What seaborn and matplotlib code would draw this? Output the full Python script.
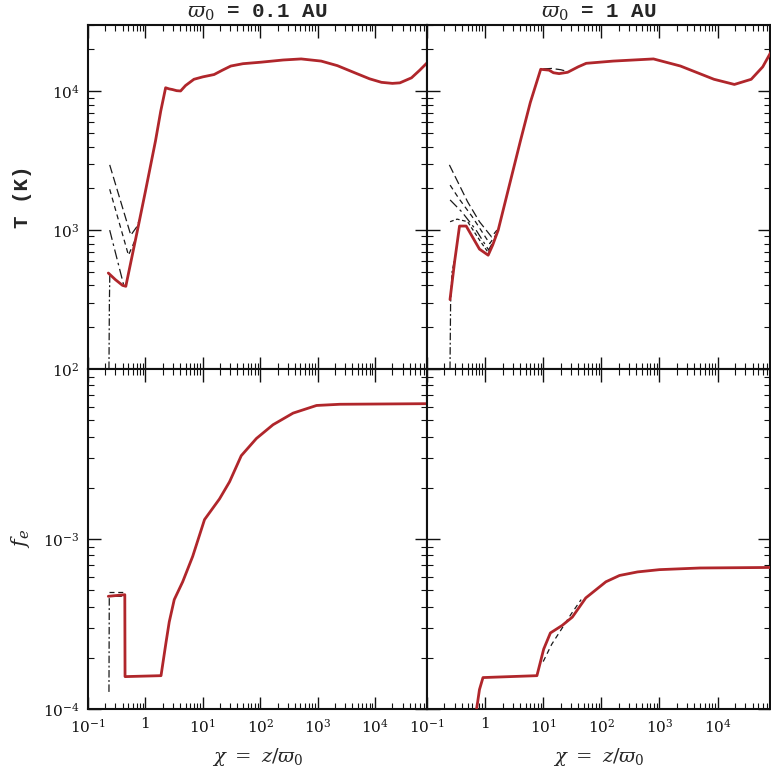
"""Temperature and electron fraction profiles along the jet, two launch radii."""

import matplotlib
matplotlib.use("Agg")
import matplotlib.pyplot as plt
import matplotlib.ticker as mticker
import numpy as np
import seaborn as sns

sns.set_theme(style="ticks")
plt.rcParams["font.family"] = ["DejaVu Serif"]
plt.rcParams["mathtext.fontset"] = "dejavuserif"

RED = "#b0262b"
INK = "#1a1a1a"

# ---- panel (a): varpi0 = 0.1 AU, temperature ----
x_T1 = [0.226, 0.30, 0.40, 0.456, 0.728, 1.0, 1.5, 1.85, 2.25, 2.6, 2.94, 3.5, 4.1,
        5.0, 7.0, 10, 15.7, 22, 30.7, 50, 103, 250, 515, 1150, 2200, 4400, 8000,
        12900, 20000, 27000, 43000, 60000, 80000]
T1 = [491, 440, 400, 394, 1000, 1900, 4400, 7200, 10600, 10400, 10300, 10100, 10050,
      11000, 12200, 12700, 13200, 14200, 15200, 15800, 16200, 16800, 17100, 16500,
      15300, 13600, 12300, 11600, 11400, 11500, 12500, 14200, 16000]
T1_alt = [
    ([0.239, 0.557, 0.70, 0.80], [2950, 920, 1050, 1200], (0, (7, 3))),
    ([0.239, 0.507, 0.68], [1970, 660, 870], (0, (4, 3))),
    ([0.239, 0.42], [1000, 400], (0, (8, 3, 2, 3))),
    ([0.232, 0.236, 0.24, 0.25], [100, 300, 480, 475], (0, (6, 2, 1.5, 2))),
]

# ---- panel (b): varpi0 = 1 AU, temperature ----
x_T2 = [0.249, 0.30, 0.363, 0.473, 0.60, 0.80, 1.13, 1.35, 1.68, 2.5, 4.06, 6.0, 9.06,
        12.6, 15, 18.8, 26.3, 40, 55, 160, 790, 2300, 8700, 19500, 38000, 60000, 85000]
T2 = [316, 600, 1070, 1070, 900, 730, 660, 780, 1000, 1950, 4400, 8300, 14400,
      14200, 13600, 13400, 13700, 15000, 15900, 16500, 17100, 15200, 12200, 11200,
      12200, 15000, 19500]
T2_alt = [
    ([0.243, 0.5, 0.8, 1.29, 1.6], [2950, 1600, 1150, 895, 1000], (0, (7, 3))),
    ([0.25, 0.35, 0.6, 1.2, 1.55], [2110, 1700, 1250, 800, 930], (0, (4, 3))),
    ([0.25, 0.4, 0.7, 1.15, 1.5], [1650, 1350, 1000, 720, 880], (0, (8, 3, 2, 3))),
    ([0.25, 0.33, 0.5, 0.8, 1.13, 1.4], [1150, 1200, 1150, 850, 690, 810], (0, (3, 2))),
    ([0.249, 0.255, 0.27, 0.30], [100, 300, 500, 620], (0, (6, 2, 1.5, 2))),
    ([10, 14, 20, 26], [14500, 14600, 14300, 13900], (0, (7, 3))),
]

# ---- panel (c): varpi0 = 0.1 AU, electron fraction ----
x_f1 = [0.226, 0.438, 0.442, 1.87, 2.28, 2.6, 3.18, 4.46, 6.66, 10.7, 19.5, 29.2, 46.7,
        85.6, 167, 373, 955, 2440, 80000]
f1 = [4.6e-4, 4.7e-4, 1.55e-4, 1.57e-4, 2.45e-4, 3.25e-4, 4.4e-4, 5.6e-4, 7.9e-4,
      1.3e-3, 1.72e-3, 2.17e-3, 3.09e-3, 3.9e-3, 4.7e-3, 5.5e-3, 6.1e-3, 6.2e-3, 6.25e-3]
f1_alt = [
    ([0.232, 0.235, 0.44], [1.26e-4, 4.6e-4, 4.6e-4], (0, (6, 2, 1.5, 2))),
    ([0.23, 0.43], [4.85e-4, 4.85e-4], (0, (4, 3))),
]

# ---- panel (d): varpi0 = 1 AU, electron fraction ----
x_f2 = [0.70, 0.80, 0.92, 7.8, 10.2, 13.3, 21.2, 31.7, 54, 120, 206, 420, 1000, 5000, 85000]
f2 = [9.5e-5, 1.3e-4, 1.53e-4, 1.57e-4, 2.25e-4, 2.8e-4, 3.1e-4, 3.47e-4, 4.5e-4,
      5.6e-4, 6.1e-4, 6.4e-4, 6.6e-4, 6.75e-4, 6.8e-4]
f2_alt = [
    ([10, 14, 20, 30, 45], [1.9e-4, 2.4e-4, 2.9e-4, 3.6e-4, 4.4e-4], (0, (4, 3))),
]

titles = [r"$\varpi_0$ = 0.1 AU", r"$\varpi_0$ = 1 AU"]
x_ticks = [0.1, 1, 10, 100, 1000, 10000]


def dec_label(v, pos):
    e = int(round(np.log10(v)))
    return "1" if e == 0 else f"$10^{{{e}}}$"


def draw(ax, xs, ys, alts):
    for ax_x, ax_y, ls in alts:
        sns.lineplot(x=ax_x, y=ax_y, ax=ax, color=INK, lw=0.9, linestyle=ls,
                     sort=False, estimator=None, zorder=2)
    sns.lineplot(x=xs, y=ys, ax=ax, color=RED, lw=2.0, sort=False,
                 estimator=None, zorder=3)


def style(ax, ylim, show_x, show_y):
    ax.set_xscale("log")
    ax.set_yscale("log")
    ax.set_xlim(0.1, 8e4)
    ax.set_ylim(*ylim)
    ax.xaxis.set_major_locator(mticker.FixedLocator(x_ticks))
    ax.xaxis.set_minor_locator(mticker.LogLocator(base=10, subs=np.arange(2, 10), numticks=20))
    ax.yaxis.set_major_locator(mticker.LogLocator(base=10, numticks=10))
    ax.yaxis.set_minor_locator(mticker.LogLocator(base=10, subs=np.arange(2, 10), numticks=20))
    ax.xaxis.set_minor_formatter(mticker.NullFormatter())
    ax.yaxis.set_minor_formatter(mticker.NullFormatter())
    ax.xaxis.set_major_formatter(mticker.FuncFormatter(dec_label) if show_x else mticker.NullFormatter())
    ax.yaxis.set_major_formatter(mticker.FuncFormatter(dec_label) if show_y else mticker.NullFormatter())
    ax.tick_params(which="both", direction="in", top=True, right=True, color="#111",
                   labelsize=11, labelcolor="#111")
    ax.tick_params(which="major", length=9, width=1.0, pad=6)
    ax.tick_params(which="minor", length=4, width=0.8)
    for sp in ax.spines.values():
        sp.set_linewidth(1.5)
        sp.set_color("#111")
    ax.set_xlabel("")
    ax.set_ylabel("")


fig = plt.figure(figsize=(7.71, 7.75), dpi=100)
ax_a = fig.add_axes([0.1141, 0.5239, 0.4397, 0.4438])
ax_b = fig.add_axes([0.5538, 0.5239, 0.4449, 0.4438])
ax_c = fig.add_axes([0.1141, 0.0852, 0.4397, 0.4387])
ax_d = fig.add_axes([0.5538, 0.0852, 0.4449, 0.4387])

draw(ax_a, x_T1, T1, T1_alt)
draw(ax_b, x_T2, T2, T2_alt)
draw(ax_c, x_f1, f1, f1_alt)
draw(ax_d, x_f2, f2, f2_alt)

style(ax_a, (100, 3e4), False, True)
style(ax_b, (100, 3e4), False, False)
style(ax_c, (1e-4, 1e-2), True, True)
style(ax_d, (1e-4, 1e-2), True, False)

# the 10^-2 label would sit on top of the 10^2 one
ax_c.yaxis.set_major_locator(mticker.FixedLocator([1e-4, 1e-3]))

for ax, t in zip([ax_a, ax_b], titles):
    ax.set_title(t, fontsize=15, fontweight="bold", family="Liberation Mono", pad=5)

for ax in [ax_c, ax_d]:
    ax.set_xlabel(r"$\chi\ =\ z/\varpi_0$", fontsize=14, labelpad=8)

ax_a.set_ylabel("T (K)", fontsize=15, fontweight="bold", family="Liberation Mono", labelpad=14)
ax_c.set_ylabel(r"$f_e$", fontsize=15, labelpad=8)

fig.savefig("out.png", dpi=100)
plt.close(fig)
